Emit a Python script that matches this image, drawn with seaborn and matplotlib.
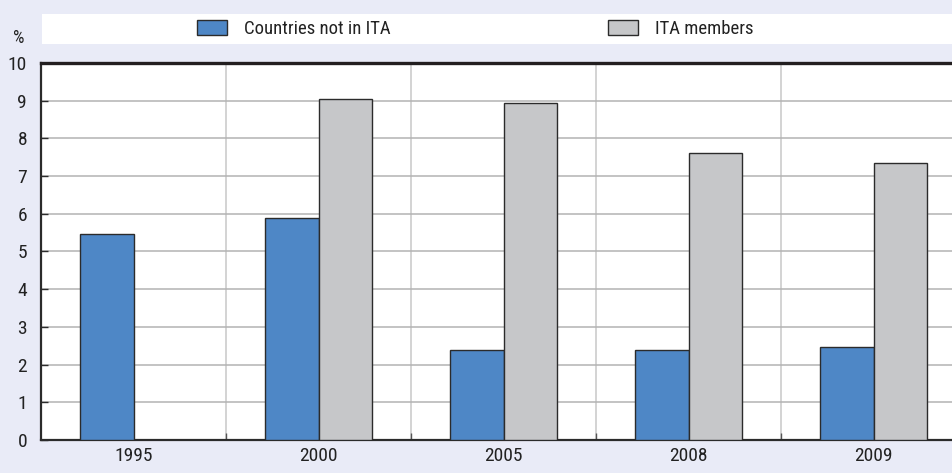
import numpy as np
import pandas as pd
import matplotlib
matplotlib.use("Agg")
import matplotlib.pyplot as plt
from matplotlib.patches import Rectangle, Patch
from matplotlib import font_manager
import seaborn as sns

# Share of ICT goods, by year and country group (%)
years = ["1995", "2000", "2005", "2008", "2009"]
not_ita = [5.47, 5.89, 2.38, 2.38, 2.46]
ita_members = [np.nan, 9.05, 8.93, 7.62, 7.35]
groups = ["Countries not in ITA", "ITA members"]

df = pd.DataFrame({
    "year": years * 2,
    "value": not_ita + ita_members,
    "group": [groups[0]] * len(years) + [groups[1]] * len(years),
})

bg = "#E9EBF7"
blue = "#4E87C6"
grey = "#C6C7C9"
edge = "#2b2b2b"
txt = "#222222"
fs = 14

sns.set_theme(style="white")
# prefer a narrow face when one is available
names = {f.name for f in font_manager.fontManager.ttflist}
narrow = [n for n in ["Liberation Sans Narrow", "Arial Narrow", "Roboto Condensed",
                      "DejaVu Sans Condensed"] if n in names]
plt.rcParams["font.family"] = narrow + ["DejaVu Sans"]
plt.rcParams["font.stretch"] = "condensed"

fig = plt.figure(figsize=(9.52, 4.73), dpi=100, facecolor=bg)
ax = fig.add_axes([41 / 952, 33 / 473, 1 - 41 / 952, 377 / 473])
ax.set_facecolor("white")

sns.barplot(data=df, x="year", y="value", hue="group", order=years,
            hue_order=groups, palette=[blue, grey], saturation=1, width=0.573,
            edgecolor=edge, linewidth=1.0, ax=ax, legend=False, zorder=3)

ax.set_ylim(0, 10)
ax.set_xlim(-0.5, -0.5 + (952 - 41) / 185)
ax.set_yticks(range(0, 11))
ax.set_xticks(range(len(years)))
ax.set_xticklabels(years)
ax.set_xticks(np.arange(0.5, len(years) - 0.5, 1), minor=True)
ax.set_xlabel("")
ax.set_ylabel("")

ax.grid(False)
ax.yaxis.grid(True, color="#b3b3b3", linewidth=1.1, zorder=0)
ax.xaxis.grid(True, which="minor", color="#c8c8c8", linewidth=1.1, zorder=0)
ax.set_axisbelow(True)

ax.tick_params(axis="y", direction="in", length=5, width=1.0, color=edge,
               labelsize=fs, pad=10, labelcolor=txt, left=True)
ax.tick_params(axis="x", which="major", length=0, labelsize=fs, pad=5,
               labelcolor=txt)
ax.tick_params(axis="x", which="minor", direction="in", length=5, width=1.0,
               color="#555555", bottom=True)

for side in ["left", "bottom"]:
    ax.spines[side].set_color(edge)
    ax.spines[side].set_linewidth(1.6)
ax.spines["top"].set_color("#231f20")
ax.spines["top"].set_linewidth(2.4)
ax.spines["right"].set_visible(False)

# white legend band above the plot area
fig.patches.append(Rectangle((42 / 952, 1 - 44 / 473), 1 - 42 / 952, 30 / 473,
                             transform=fig.transFigure, facecolor="white",
                             edgecolor="none", zorder=0))

for color, label, xpos in [(blue, groups[0], 197), (grey, groups[1], 608)]:
    leg = fig.legend(handles=[Patch(facecolor=color, edgecolor=edge, linewidth=1.0)],
                     labels=[label], loc="center left",
                     bbox_to_anchor=(xpos / 952, 1 - 29 / 473),
                     frameon=False, fontsize=fs - 0.5, handlelength=1.6,
                     handleheight=0.9, handletextpad=0.9, borderpad=0,
                     borderaxespad=0)
    for t in leg.get_texts():
        t.set_color(txt)

fig.text(19 / 952, 1 - 38 / 473, "%", ha="center", va="center",
         fontsize=fs - 1, color=txt)

fig.savefig("out.png", dpi=100, facecolor=bg)
